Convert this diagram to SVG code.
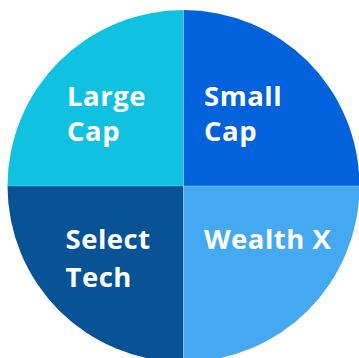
<svg xmlns="http://www.w3.org/2000/svg" width="359" height="358" viewBox="0 0 359 358">
<style>
.lbl{font-family:"Open Sans","Liberation Sans",sans-serif;font-weight:700;font-size:27.5px;letter-spacing:0.5px;fill:#ffffff}
.sep{stroke:#ffffff;stroke-opacity:0.25;stroke-width:1;fill:none}
</style>
<rect width="359" height="358" fill="#ffffff"/>
<g id="large-cap">
<path d="M183.5,186 L7.5,186 A176,176 0 0 1 183.5,10 Z" fill="#10C1E0"/>
<text class="lbl" x="67" y="105.5">Large</text>
<text class="lbl" x="67" y="141">Cap</text>
</g>
<g id="small-cap">
<path d="M183.5,186 L183.5,10 A176,176 0 0 1 359.5,186 Z" fill="#0262DC"/>
<text class="lbl" x="204" y="105.5">Small</text>
<text class="lbl" x="204" y="141">Cap</text>
</g>
<g id="select-tech">
<path d="M183.5,186 L183.5,362 A176,176 0 0 1 7.5,186 Z" fill="#075395"/>
<text class="lbl" x="65.5" y="248.5">Select</text>
<text class="lbl" x="65.5" y="286.5">Tech</text>
</g>
<g id="wealth-x">
<path d="M183.5,186 L359.5,186 A176,176 0 0 1 183.5,362 Z" fill="#44A9F1"/>
<text class="lbl" x="204" y="248.5">Wealth X</text>
</g>
<g id="connectors">
<line class="sep" x1="183.5" y1="10" x2="183.5" y2="362"/>
<line class="sep" x1="7.5" y1="186" x2="359.5" y2="186"/>
</g>
</svg>
